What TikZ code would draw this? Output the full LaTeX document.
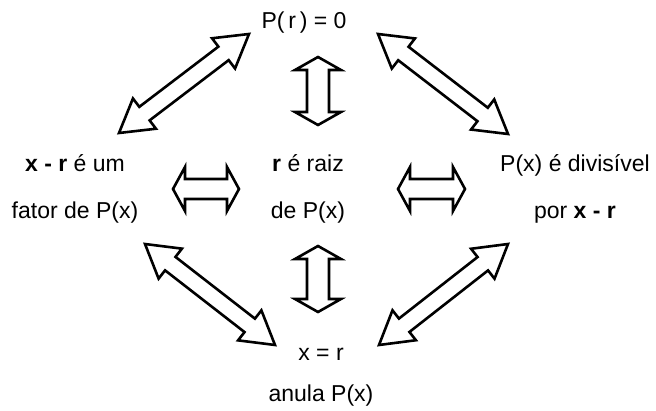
\documentclass[tikz,border=0pt]{standalone}
\usepackage{fontspec}
\setmainfont{Liberation Sans}
\usetikzlibrary{calc}

\tikzset{
  blockarrow/.style={line width=2.6pt, fill=white, line join=miter},
  lbl/.style={font=\fontsize{23}{47}\selectfont, align=center, inner sep=0pt}
}

% hollow double arrow: from, to, shaft half width, head half width, head length
\newcommand{\eqarrow}[5]{%
  \draw[blockarrow] (#1)
    -- ($(#1)!#5!(#2)!#4!90:(#2)$) -- ($(#1)!#5!(#2)!#3!90:(#2)$)
    -- ($(#2)!#5!(#1)!#3!-90:(#1)$) -- ($(#2)!#5!(#1)!#4!-90:(#1)$)
    -- (#2)
    -- ($(#2)!#5!(#1)!#4!90:(#1)$) -- ($(#2)!#5!(#1)!#3!90:(#1)$)
    -- ($(#1)!#5!(#2)!#3!-90:(#2)$) -- ($(#1)!#5!(#2)!#4!-90:(#2)$)
    -- cycle;}

\begin{document}
\begin{tikzpicture}[x=1pt,y=1pt]
  \useasboundingbox (0,0) rectangle (656,410);

  \node[lbl] (zero) at (304,387) {P(\,r\,) = 0};
  \node[lbl] (fator) at (75,221) {\textbf{x - r} é um\\fator de P(x)};
  \node[lbl] (raiz) at (308,221) {\textbf{r} é raiz\\de P(x)};
  \node[lbl] (divis) at (575,221) {P(x) é divisível\\por \textbf{x - r}};
  \node[lbl] (anula) at (321,33) {x = r\\[-6pt]anula P(x)};

  % arrow ends
  \coordinate (va1) at (318,353); \coordinate (va2) at (318,285);
  \coordinate (vb1) at (318,164); \coordinate (vb2) at (318,98);
  \coordinate (ha1) at (173,221); \coordinate (ha2) at (239,221);
  \coordinate (hb1) at (398,221); \coordinate (hb2) at (465,221);
  \coordinate (da1) at (119,277); \coordinate (da2) at (249,376);
  \coordinate (db1) at (378,376); \coordinate (db2) at (508,276);
  \coordinate (dc1) at (145,166); \coordinate (dc2) at (275,65);
  \coordinate (dd1) at (508,166); \coordinate (dd2) at (379,65);

  \eqarrow{va1}{va2}{11pt}{23pt}{13pt}
  \eqarrow{vb1}{vb2}{11pt}{23pt}{13pt}
  \eqarrow{ha1}{ha2}{10pt}{22pt}{12pt}
  \eqarrow{hb1}{hb2}{10pt}{22pt}{12pt}
  \eqarrow{da1}{da2}{8.5pt}{19pt}{32pt}
  \eqarrow{db1}{db2}{8.5pt}{19pt}{32pt}
  \eqarrow{dc1}{dc2}{8.5pt}{19pt}{32pt}
  \eqarrow{dd1}{dd2}{8.5pt}{19pt}{32pt}
\end{tikzpicture}
\end{document}
